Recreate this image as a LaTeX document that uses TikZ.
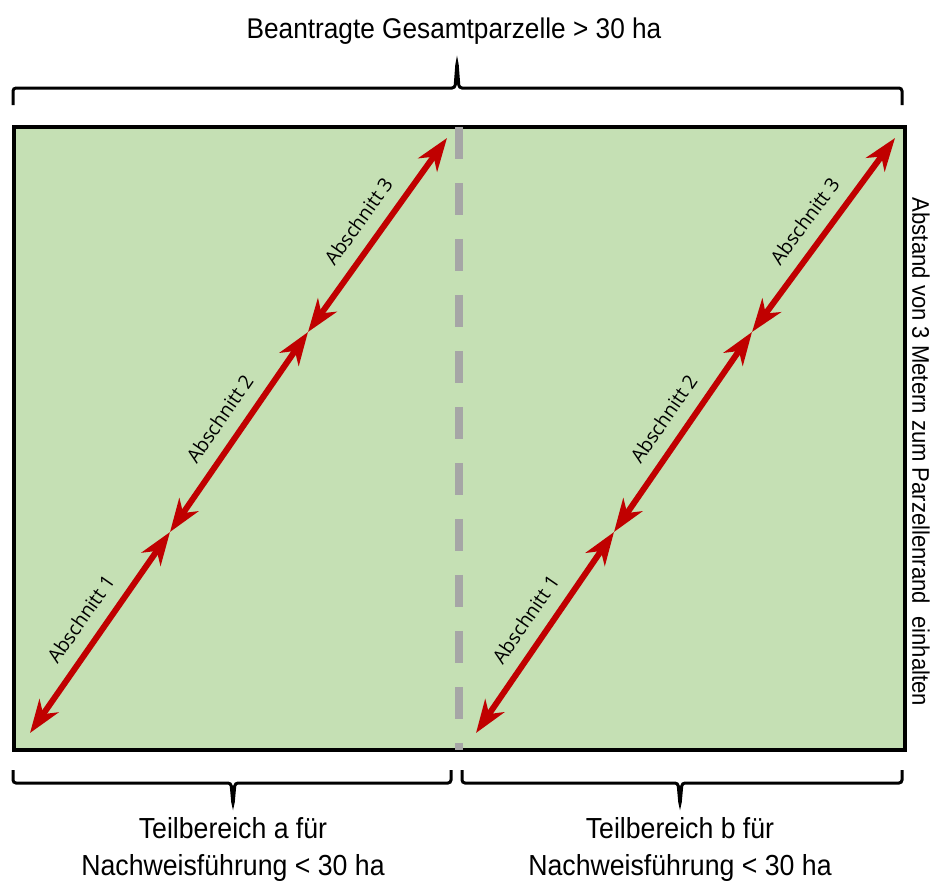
\documentclass[tikz,border=0pt]{standalone}
\usepackage{fontspec}
\setmainfont{Liberation Sans}[FakeStretch=0.92]
\newfontfamily\labelfont{Open Sans}
\usetikzlibrary{calc, positioning, arrows.meta}

\definecolor{feldgruen}{HTML}{C5E0B4}
\definecolor{pfeilrot}{HTML}{C00000}
\definecolor{trenngrau}{HTML}{A6A6A6}

\tikzset{
  beschriftung/.style={font=\fontsize{29}{37}\selectfont, align=center, inner sep=0pt},
  abschnitt/.style={font=\labelfont\fontsize{19.5}{22}\selectfont, text=black, sloped, above=13pt, inner sep=0pt},
  strecke/.style={draw=pfeilrot, line width=6pt,
    {Stealth[length=33pt, width=23pt, inset=10pt]}-{Stealth[length=33pt, width=23pt, inset=10pt]}},
  klammer/.style={line width=3pt, rounded corners=3pt},
  feld/.style={draw, fill=feldgruen, line width=3.5pt, inner sep=0pt,
    minimum width=891pt, minimum height=623pt},
  trennlinie/.style={draw=trenngrau, line width=8pt, dash pattern=on 32pt off 24pt}
}

\begin{document}
\begin{tikzpicture}[x=1pt, y=-1pt]
\useasboundingbox (0,0) rectangle (937,887);

\node[beschriftung, font=\fontsize{28.5}{34}\selectfont] (titel) at (454,31) {Beantragte Gesamtparzelle > 30 ha};

\node[feld, anchor=north west] (feld) at (12,125) {};
\draw[trennlinie] ([yshift=-1.75pt]feld.north) -- ([yshift=1.75pt]feld.south);% Trennung der Teilbereiche

% Fahrstrecken in Teilbereich a
\coordinate (a0) at (30,733);
\coordinate (a1) at (170,532);
\coordinate (a2) at (308,332);
\coordinate (a3) at (447,138);
\draw[strecke] (a0) -- node[abschnitt] {Abschnitt 1} (a1);
\draw[strecke] (a1) -- node[abschnitt] {Abschnitt 2} (a2);
\draw[strecke] (a2) -- node[abschnitt] {Abschnitt 3} (a3);

% Fahrstrecken in Teilbereich b
\coordinate (b0) at (476,733);
\coordinate (b1) at (614,532);
\coordinate (b2) at (752,332);
\coordinate (b3) at (895,138);
\draw[strecke] (b0) -- node[abschnitt] {Abschnitt 1} (b1);
\draw[strecke] (b1) -- node[abschnitt] {Abschnitt 2} (b2);
\draw[strecke] (b2) -- node[abschnitt] {Abschnitt 3} (b3);

% Klammern
\draw[klammer] (13,105) -- (13,88) -- (455,88) -- (457,62) -- (459,88) -- (902,88) -- (902,105);
\draw[klammer] (13,770) -- (13,783) -- (231,783) -- (233,805) -- (235,783) -- (451,783) -- (451,770);
\draw[klammer] (462,770) -- (462,783) -- (678,783) -- (680,805) -- (682,783) -- (902,783) -- (902,770);

\node[beschriftung] (teila) at (233,849) {Teilbereich a für\\Nachweisführung < 30 ha};
\node[beschriftung] (teilb) at (680,849) {Teilbereich b für\\Nachweisführung < 30 ha};

\node[beschriftung, font=\fontsize{24}{28}\selectfont, rotate=-90] (abstand) at (921,452)
  {Abstand von 3 Metern zum Parzellenrand\ \ einhalten};
\end{tikzpicture}
\end{document}
